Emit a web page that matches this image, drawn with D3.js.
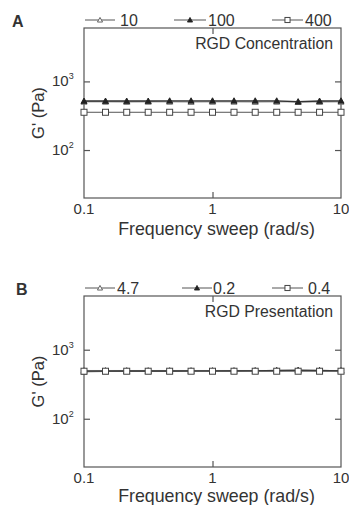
<!DOCTYPE html>
<html><head><meta charset="utf-8">
<script src="https://cdn.jsdelivr.net/npm/d3@7"></script>
<style>
body{margin:0;background:#fff;}
text{font-family:"Liberation Sans",Arial,sans-serif;fill:#333;}
</style></head>
<body><svg id="c" width="349" height="505"></svg>
<script>
// ---- data ----
const freq = [0.1, 0.147, 0.215, 0.316, 0.464, 0.681, 1, 1.47, 2.15, 3.16, 4.64, 6.81, 10];
const xTicks = [0.1, 1, 10];
const xTickLabels = ["0.1", "1", "10"];
const yTicks = [100, 1000];
const yTickExp = ["2", "3"];

const namesA = ["10", "100", "400"];
const a10  = [505, 505, 503, 505, 505, 503, 505, 505, 503, 505, 505, 503, 505];
const a100 = [518, 518, 518, 518, 522, 522, 522, 522, 522, 522, 505, 518, 522];
const a400 = [355, 355, 355, 355, 355, 355, 355, 355, 355, 355, 355, 355, 355];

const namesB = ["4.7", "0.2", "0.4"];
const b47 = [500, 500, 500, 500, 500, 500, 500, 500, 500, 500, 500, 500, 500];
const b02 = [480, 485, 488, 488, 488, 490, 490, 492, 495, 500, 505, 500, 495];
const b04 = [488, 488, 488, 488, 488, 488, 488, 488, 488, 488, 488, 488, 488];

const svg = d3.select("#c");
const W0 = 84, W1 = 341;
const x = d3.scaleLog().domain([0.1, 10]).range([W0, W1]);
const grey = "#555";

function panel(cfg){
  const y = d3.scaleLog().domain([20, 6000]).range([cfg.bottom, cfg.top]);
  const g = svg.append("g");
  g.append("rect").attr("x", W0).attr("y", cfg.top).attr("width", W1 - W0).attr("height", cfg.bottom - cfg.top)
    .attr("fill", "none").attr("stroke", grey).attr("stroke-width", 1.2);
  const tickStyle = s => { s.select(".domain").remove(); s.selectAll("line").attr("stroke", grey).attr("stroke-width",1.2); };
  g.append("g").attr("transform", `translate(0,${cfg.bottom})`)
    .call(d3.axisBottom(x).tickValues([1]).tickSize(-6).tickFormat("")).call(tickStyle);
  g.append("g").attr("transform", `translate(0,${cfg.top})`)
    .call(d3.axisTop(x).tickValues([1]).tickSize(-6).tickFormat("")).call(tickStyle);
  g.append("g").attr("transform", `translate(${W0},0)`)
    .call(d3.axisLeft(y).tickValues(yTicks).tickSize(-6).tickFormat("")).call(tickStyle);
  g.append("g").attr("transform", `translate(${W1},0)`)
    .call(d3.axisRight(y).tickValues(yTicks).tickSize(-6).tickFormat("")).call(tickStyle);
  xTicks.forEach((t, i) => {
    g.append("text").attr("x", x(t)).attr("y", cfg.bottom + 16).attr("text-anchor", "middle")
      .attr("font-size", 15).text(xTickLabels[i]);
  });
  yTicks.forEach((t, i) => {
    const tx = g.append("text").attr("x", 52).attr("y", y(t) + 5).attr("font-size", 15);
    tx.append("tspan").text("10");
    tx.append("tspan").attr("dy", -7).attr("font-size", 9).text(yTickExp[i]);
  });
  g.append("text").attr("x", (W0 + W1) / 2 + 4).attr("y", cfg.bottom + cfg.xty).attr("text-anchor", "middle")
    .attr("font-size", 17.8).text("Frequency sweep (rad/s)");
  g.append("text").attr("transform", `translate(44,${(cfg.top + cfg.bottom) / 2}) rotate(-90)`)
    .attr("text-anchor", "middle").attr("font-size", 16.5).text("G' (Pa)");
  g.append("text").attr("x", cfg.lx).attr("y", cfg.top - 1).attr("font-size", 16).attr("font-weight", "bold")
    .attr("fill", "#222").text(cfg.letter);
  g.append("text").attr("x", 333).attr("y", cfg.top + 21).attr("text-anchor", "end")
    .attr("font-size", 15.8).text(cfg.title);

  const line = d3.line().x((d, i) => x(freq[i])).y(d => y(d));
  cfg.series.forEach(s => {
    g.append("path").datum(s.vals).attr("d", line).attr("fill", "none")
      .attr("stroke", s.lineColor).attr("stroke-width", s.lw);
  });
  cfg.series.forEach(s => {
    const m = g.append("g");
    s.vals.forEach((v, i) => drawMarker(m, s.shape, x(freq[i]), y(v)));
  });
  cfg.legend.forEach((L, k) => {
    const s = cfg.series[k];
    g.append("line").attr("x1", L[0]).attr("x2", L[1]).attr("y1", cfg.ly).attr("y2", cfg.ly)
      .attr("stroke", grey).attr("stroke-width", 1);
    drawMarker(g, s.shape, (L[0] + L[1]) / 2, cfg.ly, 0.85);
    g.append("text").attr("x", L[2]).attr("y", cfg.ly + 6).attr("font-size", 16).text(s.name);
  });
}

function drawMarker(g, shape, cx, cy, k = 1){
  if (shape === "square") {
    const s = 6 * k;
    g.append("rect").attr("x", cx - s / 2).attr("y", cy - s / 2).attr("width", s).attr("height", s)
      .attr("fill", "#fff").attr("stroke", "#444").attr("stroke-width", 1);
  } else {
    const s = 3 * k;
    const filled = shape === "tri";
    g.append("path").attr("d", `M${cx},${cy - s}L${cx + s},${cy + s * 0.8}L${cx - s},${cy + s * 0.8}Z`)
      .attr("fill", filled ? "#222" : "#fff").attr("stroke", filled ? "#222" : "#555").attr("stroke-width", 0.9);
  }
}

panel({
  top: 28, bottom: 198, letter: "A", lx: 12, title: "RGD Concentration", ly: 20, xty: 37,
  legend: [[85, 115, 120], [174, 206, 208], [272, 303, 305]],
  series: [
    {name: namesA[0], vals: a10, shape: "otri", lineColor: "#666", lw: 1},
    {name: namesA[1], vals: a100, shape: "tri", lineColor: "#333", lw: 1.3},
    {name: namesA[2], vals: a400, shape: "square", lineColor: "#555", lw: 1}
  ]
});
panel({
  top: 296, bottom: 467, letter: "B", lx: 16, title: "RGD Presentation", ly: 288, xty: 35,
  legend: [[85, 115, 117], [182, 212, 213], [272, 303, 308]],
  series: [
    {name: namesB[0], vals: b47, shape: "otri", lineColor: "#666", lw: 1},
    {name: namesB[1], vals: b02, shape: "tri", lineColor: "#333", lw: 1.3},
    {name: namesB[2], vals: b04, shape: "square", lineColor: "#555", lw: 1}
  ]
});
</script></body></html>
